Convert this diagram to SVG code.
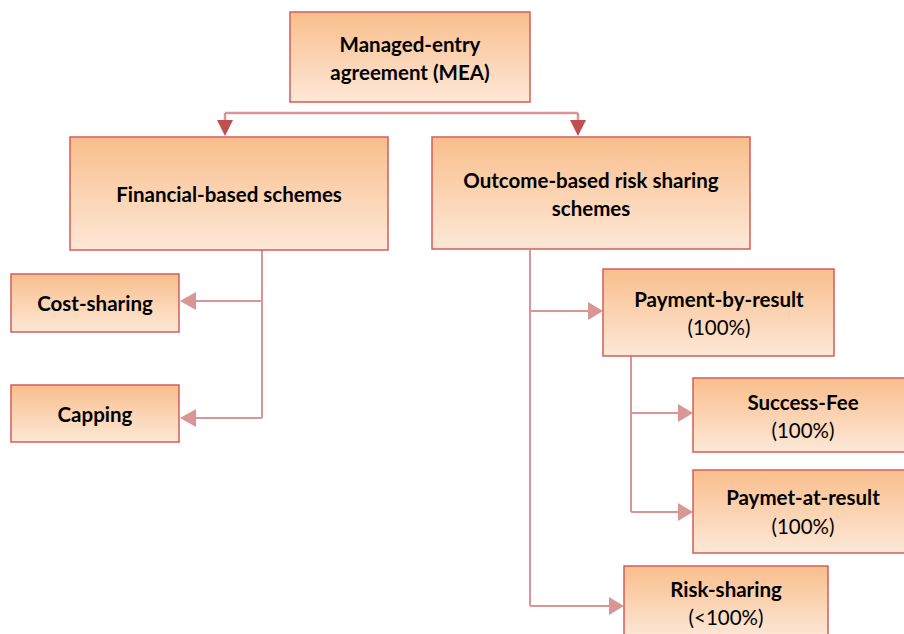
<svg xmlns="http://www.w3.org/2000/svg" width="904" height="634" viewBox="0 0 904 634">
  <defs>
    <linearGradient id="boxFill" x1="0" y1="0" x2="0" y2="1">
      <stop offset="0" stop-color="#F9BE8C"/>
      <stop offset="1" stop-color="#FDE8D7"/>
    </linearGradient>
  </defs>
  <style>
    .box { fill: url(#boxFill); stroke: #D25E5A; stroke-width: 1.5; }
    .lbl { font-family: Lato, "Liberation Sans", sans-serif; font-size: 20.5px; fill: #000; text-anchor: middle; }
    .b { font-weight: bold; }
    .top { fill: none; stroke: #D99694; stroke-width: 2.5; }
    .link { fill: none; stroke: #D99694; stroke-width: 2; }
    .headDark { fill: #C0504D; }
    .headLight { fill: #D99694; }
  </style>

  <g id="connectors">
    <!-- split below the top node -->
    <path class="top" d="M225,113 H578"/>
    <path class="top" d="M225,113 V121"/>
    <path class="top" d="M578,113 V121"/>
    <path class="headDark" d="M217,120 L233,120 L225,136 Z"/>
    <path class="headDark" d="M570,120 L586,120 L578,136 Z"/>

    <!-- financial branch -->
    <path class="link" d="M262,250 V418"/>
    <path class="link" d="M262,301 H196"/>
    <path class="headLight" d="M196,292 L196,310 L180,301 Z"/>
    <path class="link" d="M262,418 H196"/>
    <path class="headLight" d="M196,409 L196,427 L180,418 Z"/>

    <!-- outcome branch -->
    <path class="link" d="M530,250 V606"/>
    <path class="link" d="M530,311 H588"/>
    <path class="headLight" d="M588,302 L588,320 L603,311 Z"/>
    <path class="link" d="M530,606 H609"/>
    <path class="headLight" d="M609,597 L609,615 L624,606 Z"/>

    <!-- payment-by-result branch -->
    <path class="link" d="M631,356 V512"/>
    <path class="link" d="M631,413 H678"/>
    <path class="headLight" d="M678,404 L678,422 L693,413 Z"/>
    <path class="link" d="M631,512 H678"/>
    <path class="headLight" d="M678,503 L678,521 L693,512 Z"/>
  </g>

  <g id="mea">
    <rect class="box" x="290" y="12" width="240" height="90"/>
    <text class="lbl b" x="410" y="52">Managed-entry</text>
    <text class="lbl b" x="410" y="80">agreement (MEA)</text>
  </g>

  <g id="financial">
    <rect class="box" x="70" y="137" width="318" height="113"/>
    <text class="lbl b" x="229" y="202">Financial-based schemes</text>
  </g>

  <g id="outcome">
    <rect class="box" x="432" y="137" width="318" height="112"/>
    <text class="lbl b" x="591" y="188">Outcome-based risk sharing</text>
    <text class="lbl b" x="591" y="216">schemes</text>
  </g>

  <g id="cost-sharing">
    <rect class="box" x="11" y="274" width="168" height="58"/>
    <text class="lbl b" x="95" y="311">Cost-sharing</text>
  </g>

  <g id="capping">
    <rect class="box" x="11" y="385" width="168" height="57"/>
    <text class="lbl b" x="95" y="422">Capping</text>
  </g>

  <g id="payment-by-result">
    <rect class="box" x="603" y="269" width="231" height="87"/>
    <text class="lbl b" x="719" y="307">Payment-by-result</text>
    <text class="lbl" x="719" y="335">(100%)</text>
  </g>

  <g id="success-fee">
    <rect class="box" x="693" y="378" width="214" height="74"/>
    <text class="lbl b" x="803" y="410">Success-Fee</text>
    <text class="lbl" x="803" y="438">(100%)</text>
  </g>

  <g id="paymet-at-result">
    <rect class="box" x="693" y="470" width="214" height="83"/>
    <text class="lbl b" x="803" y="505">Paymet-at-result</text>
    <text class="lbl" x="803" y="534">(100%)</text>
  </g>

  <g id="risk-sharing">
    <rect class="box" x="624" y="566" width="204" height="72"/>
    <text class="lbl b" x="726" y="597">Risk-sharing</text>
    <text class="lbl" x="726" y="625">(&lt;100%)</text>
  </g>
</svg>
